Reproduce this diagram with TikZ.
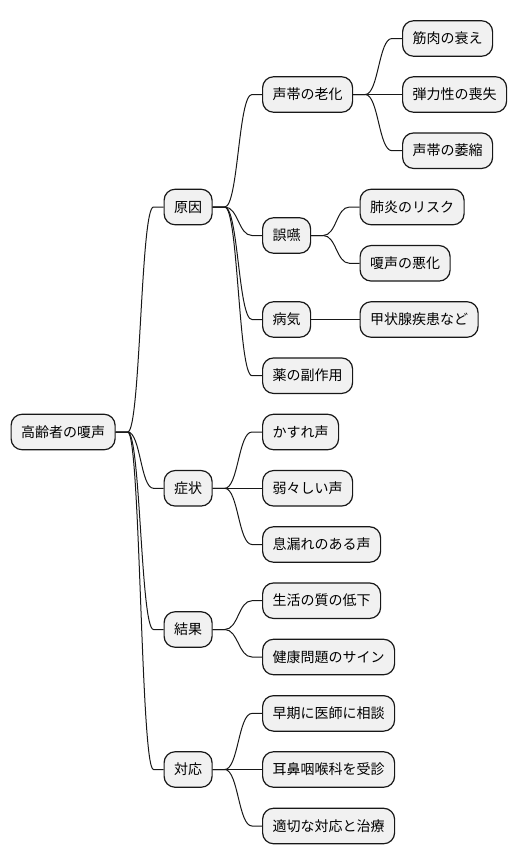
\documentclass[tikz,border=0pt]{standalone}
\usepackage{fontspec}
\newfontfamily\jpfont{Noto Sans CJK JP}
\usetikzlibrary{calc}
\definecolor{nodefill}{HTML}{F1F1F1}
\definecolor{nodeline}{HTML}{181818}
\tikzset{
  mmnode/.style={draw=nodeline, fill=nodefill, line width=1.2pt, rounded corners=11pt,
    anchor=west, inner xsep=10pt, inner ysep=0pt, minimum height=35.5pt,
    text height=12pt, text depth=2pt, font=\jpfont\fontsize{14pt}{16pt}\selectfont},
  mmline/.style={draw=nodeline, line width=1pt}
}
\newcommand{\mmlink}[2]{%
  \draw[mmline] let \p1=(#1.east), \p2=(#2.west) in
    (\p1) -- (\x1+12pt,\y1)
    .. controls (\x1/2+\x2/2+1pt,\y1) and (\x1/2+\x2/2+1pt,\y2) ..
    (\x2-10pt,\y2) -- (\p2);}
\begin{document}
\begin{tikzpicture}[x=1pt,y=-1pt]
\useasboundingbox (0,0) rectangle (516,865);
% root
\node[mmnode] (root) at (10.5,432) {高齢者の嗄声};
% level 1
\node[mmnode] (gen) at (163.5,207) {原因};
\node[mmnode] (sho) at (163.5,488.3) {症状};
\node[mmnode] (ket) at (163.5,629.5) {結果};
\node[mmnode] (tai) at (163.5,769.5) {対応};
% level 2
\node[mmnode] (rok) at (262,94.5) {声帯の老化};
\node[mmnode] (goe) at (262,235.5) {誤嚥};
\node[mmnode] (byo) at (262,319.5) {病気};
\node[mmnode] (kus) at (262,375.7) {薬の副作用};
\node[mmnode] (kas) at (262,432) {かすれ声};
\node[mmnode] (yow) at (262,488.3) {弱々しい声};
\node[mmnode] (iki) at (262,544.5) {息漏れのある声};
\node[mmnode] (sei) at (262,600.7) {生活の質の低下};
\node[mmnode] (ken) at (262,657) {健康問題のサイン};
\node[mmnode] (sou) at (262,713.4) {早期に医師に相談};
\node[mmnode] (jib) at (262,769.5) {耳鼻咽喉科を受診};
\node[mmnode] (tek) at (262,826) {適切な対応と治療};
% level 3
\node[mmnode] (kin) at (402,38.5) {筋肉の衰え};
\node[mmnode] (dan) at (402,94.5) {弾力性の喪失};
\node[mmnode] (ish) at (402,150.7) {声帯の萎縮};
\node[mmnode] (hai) at (359.5,207) {肺炎のリスク};
\node[mmnode] (ako) at (359.5,263.3) {嗄声の悪化};
\node[mmnode] (kou) at (359.5,319.5) {甲状腺疾患など};
% connectors
\mmlink{root}{gen}
\mmlink{root}{sho}
\mmlink{root}{ket}
\mmlink{root}{tai}
\mmlink{gen}{rok}
\mmlink{gen}{goe}
\mmlink{gen}{byo}
\mmlink{gen}{kus}
\mmlink{rok}{kin}
\mmlink{rok}{dan}
\mmlink{rok}{ish}
\mmlink{goe}{hai}
\mmlink{goe}{ako}
\mmlink{byo}{kou}
\mmlink{sho}{kas}
\mmlink{sho}{yow}
\mmlink{sho}{iki}
\mmlink{ket}{sei}
\mmlink{ket}{ken}
\mmlink{tai}{sou}
\mmlink{tai}{jib}
\mmlink{tai}{tek}
\end{tikzpicture}
\end{document}
